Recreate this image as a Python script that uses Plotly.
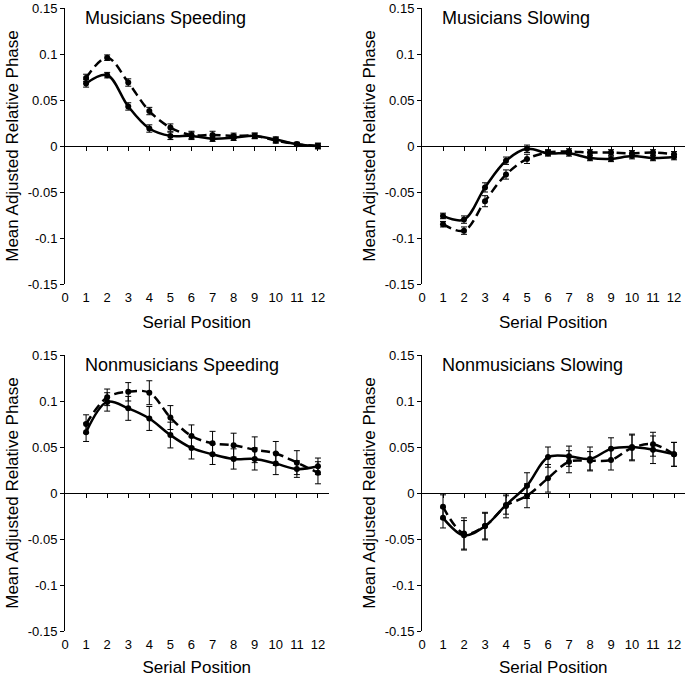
import plotly.graph_objects as go

positions = list(range(1, 13))

# Musicians speeding
ms_solid = [0.068, 0.077, 0.043, 0.019, 0.011, 0.011, 0.008, 0.009, 0.011, 0.007, 0.002, 0.000]
ms_solid_err = [0.004, 0.003, 0.004, 0.004, 0.004, 0.004, 0.003, 0.003, 0.003, 0.003, 0.002, 0.003]
ms_dash = [0.074, 0.096, 0.069, 0.038, 0.020, 0.012, 0.012, 0.011, 0.011, 0.006, 0.002, 0.000]
ms_dash_err = [0.004, 0.003, 0.004, 0.004, 0.004, 0.004, 0.004, 0.003, 0.003, 0.003, 0.002, 0.003]

# Musicians slowing
msl_solid = [-0.076, -0.080, -0.045, -0.016, -0.003, -0.008, -0.008, -0.013, -0.014, -0.011, -0.013, -0.012]
msl_solid_err = [0.003, 0.004, 0.005, 0.004, 0.004, 0.003, 0.003, 0.003, 0.003, 0.003, 0.003, 0.003]
msl_dash = [-0.085, -0.092, -0.060, -0.031, -0.014, -0.007, -0.006, -0.007, -0.007, -0.008, -0.007, -0.009]
msl_dash_err = [0.003, 0.004, 0.006, 0.005, 0.005, 0.003, 0.003, 0.003, 0.003, 0.003, 0.003, 0.003]

# Nonmusicians speeding
ns_solid = [0.066, 0.099, 0.092, 0.081, 0.063, 0.049, 0.042, 0.037, 0.037, 0.032, 0.026, 0.029]
ns_solid_err = [0.010, 0.010, 0.013, 0.013, 0.014, 0.012, 0.011, 0.011, 0.012, 0.012, 0.009, 0.009]
ns_dash = [0.075, 0.104, 0.110, 0.109, 0.082, 0.062, 0.054, 0.052, 0.047, 0.043, 0.033, 0.022]
ns_dash_err = [0.010, 0.009, 0.010, 0.013, 0.013, 0.012, 0.013, 0.013, 0.014, 0.013, 0.013, 0.012]

# Nonmusicians slowing
nsl_solid = [-0.027, -0.046, -0.036, -0.013, 0.008, 0.039, 0.040, 0.037, 0.048, 0.050, 0.047, 0.042]
nsl_solid_err = [0.011, 0.016, 0.015, 0.010, 0.014, 0.011, 0.011, 0.013, 0.012, 0.014, 0.015, 0.013]
nsl_dash = [-0.015, -0.044, -0.036, -0.014, -0.003, 0.016, 0.034, 0.035, 0.036, 0.049, 0.053, 0.042]
nsl_dash_err = [0.013, 0.017, 0.014, 0.013, 0.013, 0.015, 0.012, 0.010, 0.011, 0.014, 0.013, 0.013]

panels = [
    ("Musicians Speeding", ms_solid, ms_solid_err, ms_dash, ms_dash_err),
    ("Musicians Slowing", msl_solid, msl_solid_err, msl_dash, msl_dash_err),
    ("Nonmusicians Speeding", ns_solid, ns_solid_err, ns_dash, ns_dash_err),
    ("Nonmusicians Slowing", nsl_solid, nsl_solid_err, nsl_dash, nsl_dash_err),
]

y_ticks = [0.15, 0.1, 0.05, 0, -0.05, -0.1, -0.15]
y_ticktext = ["0.15", "0.1", "0.05", "0", "-0.05", "-0.1", "-0.15"]
x_ticks = list(range(0, 13))

FONT = "Liberation Sans, Arial, sans-serif"
W, H = 685, 677

# plot areas in pixels (left, right, top, bottom)
boxes = [(65, 328.5, 8, 284), (422, 684.5, 8, 284),
         (65, 328.5, 355, 631), (422, 684.5, 355, 631)]

fig = go.Figure()
layout = dict(
    width=W, height=H,
    margin=dict(l=0, r=0, t=0, b=0, autoexpand=False),
    paper_bgcolor="white", plot_bgcolor="white",
    showlegend=False,
    font=dict(family=FONT, color="black", size=13),
)
annotations = []

for i, (title, solid, solid_err, dash, dash_err) in enumerate(panels):
    n = i + 1
    xa, ya, xo = f"x{n}", f"y{n}", f"x{n + 4}"
    l, r, t, b = boxes[i]
    xdom = [l / W, r / W]
    ydom = [1 - b / H, 1 - t / H]

    for vals, errs, dash_style in [(dash, dash_err, "9px,5px"), (solid, solid_err, "solid")]:
        fig.add_trace(go.Scatter(
            x=positions, y=vals, xaxis=xa, yaxis=ya,
            mode="lines+markers",
            line=dict(color="black", width=2.5, shape="spline", smoothing=1.0, dash=dash_style),
            marker=dict(color="black", size=6),
            error_y=dict(type="data", array=errs, color="black", thickness=1, width=3),
        ))
    # invisible trace so the zero-crossing axis is drawn
    fig.add_trace(go.Scatter(x=[None], y=[None], xaxis=xo, yaxis=ya, showlegend=False))

    k = "" if n == 1 else str(n)
    layout[f"xaxis{k}"] = dict(
        domain=xdom, anchor=ya, range=[0, 12.5], automargin=False,
        tickvals=x_ticks, showline=False, ticks="", showgrid=False, zeroline=False,
        tickfont=dict(size=13), ticklabelstandoff=4,
        title=dict(text="Serial Position", font=dict(size=17), standoff=12),
    )
    layout[f"yaxis{k}"] = dict(
        domain=ydom, anchor=xa, range=[-0.15, 0.15], automargin=False,
        tickvals=y_ticks, ticktext=y_ticktext,
        showline=True, linecolor="black", linewidth=1,
        ticks="outside", ticklen=4, tickcolor="black",
        showgrid=False, zeroline=False,
        tickfont=dict(size=13),
        title=dict(text="Mean Adjusted Relative Phase", font=dict(size=17), standoff=4),
    )
    layout[f"xaxis{n + 4}"] = dict(
        overlaying=xa, anchor="free", position=(ydom[0] + ydom[1]) / 2,
        domain=xdom, range=[0, 12.5], tickvals=positions, automargin=False,
        showline=True, linecolor="black", linewidth=1,
        ticks="outside", ticklen=4, tickcolor="black",
        showticklabels=False, showgrid=False, zeroline=False,
    )
    annotations.append(dict(
        text=title, xref="paper", yref="paper",
        x=(l + 18) / W, y=1 - (t + 10) / H,
        xanchor="left", yanchor="middle", showarrow=False,
        font=dict(size=18, family=FONT, color="black"),
    ))

layout["annotations"] = annotations
fig.update_layout(**layout)
fig.write_html(
    "out.html",
    config={"displayModeBar": False},
    post_script="document.body.style.margin = '0px';",
)
